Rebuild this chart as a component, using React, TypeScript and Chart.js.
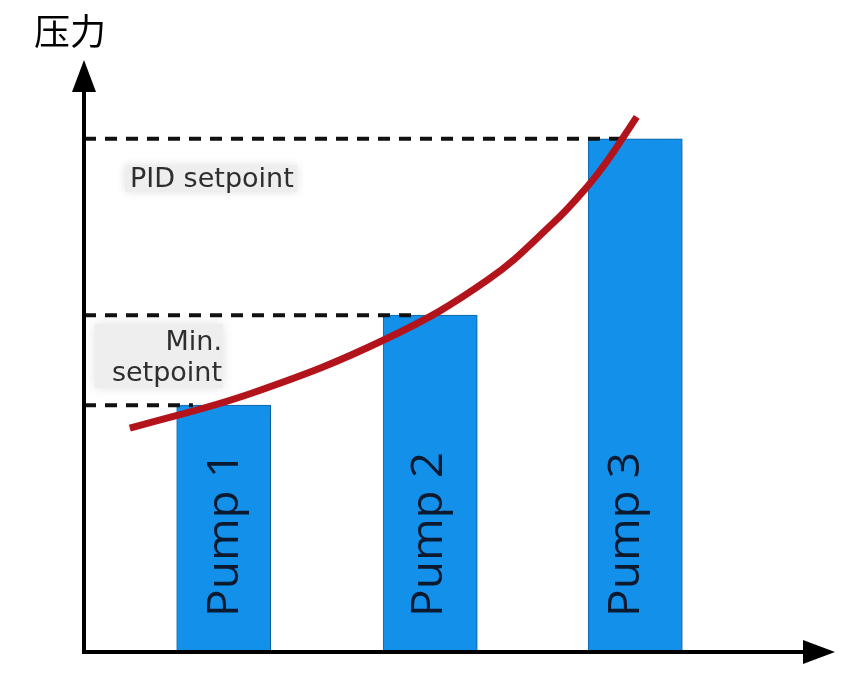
import React, { useEffect, useRef } from "react";
import { Chart, registerables } from "chart.js";

Chart.register(...registerables);

// ---- data ----
const yAxisTitle = "压力";
const pumpLabels = ["Pump 1", "Pump 2", "Pump 3"];
const pumpPositions = [18.6, 46.1, 73.4];
const pumpPressures = [41.7, 56.9, 86.7];

const setpointLevels = [41.7, 56.9, 86.7];
const setpointLineEnds = [14.5, 44.7, 71.6];
const pidSetpointLabel = "PID setpoint";
const minSetpointLabel = ["Min.", "setpoint"];

const curveX = [6.1, 22.5, 40.4, 53.7, 62.5, 67.0, 69.6, 73.6];
const curveY = [37.8, 43.8, 53.0, 62.8, 72.5, 78.6, 82.8, 90.4];

// ---- styles ----
const BAR_COLOR = "#1391EA";
const CURVE_COLOR = "#B3141C";
const TEXT_GRAY = "#2e2e2e";
const PUMP_TEXT = "#0c1a30";
const labelOffsets = [14, 12, 4];

const decorPlugin = {
  id: "decor",
  beforeDatasetsDraw(chart: any) {
    const { ctx, chartArea } = chart;
    const L = chartArea.left;
    ctx.save();
    ctx.fillStyle = "#eeeeee";
    ctx.shadowColor = "rgba(225,225,225,1)";
    ctx.shadowBlur = 10;
    ctx.fillRect(L + 41, 165, 172, 27);
    ctx.fillRect(L + 11, 324, 128, 64);
    ctx.shadowBlur = 0;
    ctx.fillStyle = TEXT_GRAY;
    ctx.font = '27px "DejaVu Sans"';
    ctx.textBaseline = "alphabetic";
    ctx.textAlign = "left";
    ctx.fillText(pidSetpointLabel, L + 46, 187);
    ctx.textAlign = "right";
    ctx.fillText(minSetpointLabel[0], L + 138, 350);
    ctx.fillText(minSetpointLabel[1], L + 138, 381);
    ctx.restore();
  },
  beforeDatasetDraw(chart: any, args: any) {
    const ctx = chart.ctx;
    ctx.save();
    if (args.index === 1) {
      ctx.shadowColor = "rgba(0,0,0,0.22)";
      ctx.shadowBlur = 12;
      ctx.shadowOffsetX = 6;
      ctx.shadowOffsetY = 2;
    }
  },
  afterDatasetDraw(chart: any) {
    chart.ctx.restore();
  },
  afterDraw(chart: any) {
    const { ctx, chartArea } = chart;
    const ys = chart.scales.y;
    const x0 = chartArea.left;
    const y0 = chartArea.bottom;
    ctx.save();
    const meta = chart.getDatasetMeta(1);
    ctx.fillStyle = PUMP_TEXT;
    ctx.font = '44px "Open Sans"';
    ctx.textAlign = "left";
    ctx.textBaseline = "alphabetic";
    meta.data.forEach((bar: any, i: number) => {
      const w = ctx.measureText(pumpLabels[i]).width;
      ctx.save();
      ctx.translate(bar.x + labelOffsets[i], ys.getPixelForValue(0) - 35);
      ctx.rotate(-Math.PI / 2);
      ctx.scale(165 / w, 1);
      ctx.fillText(pumpLabels[i], 0, 0);
      ctx.restore();
    });
    ctx.strokeStyle = "#000";
    ctx.fillStyle = "#000";
    ctx.lineWidth = 4;
    ctx.beginPath();
    ctx.moveTo(x0, y0 + 2);
    ctx.lineTo(x0, chartArea.top + 28);
    ctx.moveTo(x0 - 2, y0);
    ctx.lineTo(chartArea.right - 30, y0);
    ctx.stroke();
    ctx.beginPath();
    ctx.moveTo(x0, chartArea.top);
    ctx.lineTo(x0 - 12, chartArea.top + 32);
    ctx.lineTo(x0 + 12, chartArea.top + 32);
    ctx.closePath();
    ctx.fill();
    ctx.beginPath();
    ctx.moveTo(chartArea.right, y0);
    ctx.lineTo(chartArea.right - 32, y0 - 12);
    ctx.lineTo(chartArea.right - 32, y0 + 12);
    ctx.closePath();
    ctx.fill();
    ctx.font = '36px "Noto Sans CJK SC"';
    ctx.textAlign = "left";
    ctx.textBaseline = "middle";
    ctx.fillText(yAxisTitle, 34, 31);
    ctx.restore();
  },
};

export default function App() {
  const ref = useRef<HTMLCanvasElement | null>(null);
  useEffect(() => {
    if (!ref.current) return;
    const dashed = setpointLevels.map((lvl, i) => ({
      type: "line" as const,
      data: [
        { x: 0, y: lvl },
        { x: setpointLineEnds[i], y: lvl },
      ],
      borderColor: "#111",
      borderWidth: 4,
      borderDash: [12, 9],
      pointRadius: 0,
      fill: false,
      order: 1,
    }));
    const chart = new Chart(ref.current, {
      type: "bar",
      data: {
        datasets: [
          {
            type: "line",
            data: curveX.map((x, i) => ({ x, y: curveY[i] })),
            borderColor: CURVE_COLOR,
            borderWidth: 7,
            pointRadius: 0,
            tension: 0.4,
            fill: false,
            order: 0,
          } as any,
          {
            type: "bar",
            data: pumpPositions.map((x, i) => ({ x, y: pumpPressures[i] })),
            backgroundColor: BAR_COLOR,
            borderColor: "#0e6fb5",
            borderWidth: 1,
            barThickness: 94,
            order: 2,
          } as any,
          ...dashed,
        ] as any,
      },
      options: {
        animation: false,
        responsive: false,
        layout: { padding: { left: 84, right: 7, top: 60, bottom: 30 } },
        plugins: { legend: { display: false }, tooltip: { enabled: false } },
        scales: {
          x: { type: "linear", min: 0, max: 100, display: false, offset: false },
          y: { type: "linear", min: 0, max: 100, display: false },
        },
      },
      plugins: [decorPlugin],
    });
    return () => chart.destroy();
  }, []);
  return (
    <div style={{ position: "fixed", left: 0, top: 0, width: 842, height: 682, background: "#fff" }}>
      <canvas ref={ref} width={842} height={682} />
    </div>
  );
}
